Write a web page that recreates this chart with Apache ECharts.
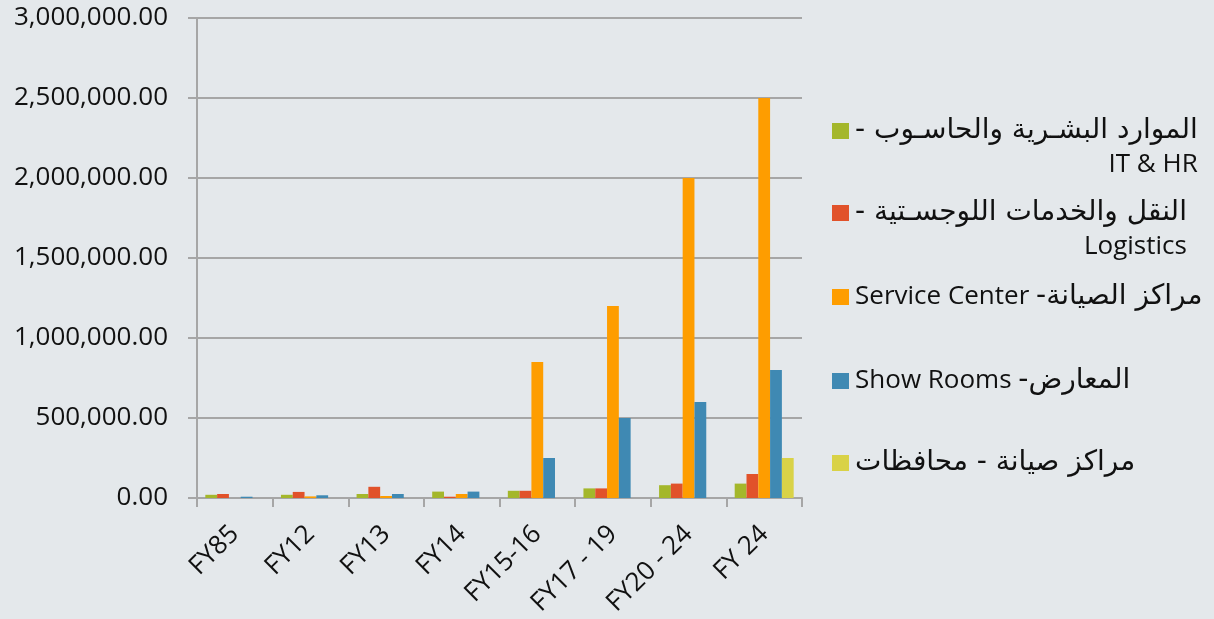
<!DOCTYPE html>
<html>
<head>
<meta charset="utf-8">
<script src="https://cdn.jsdelivr.net/npm/echarts@6/dist/echarts.min.js"></script>
<style>
html,body{margin:0;padding:0;background:#e4e8eb;}
#c{width:1214px;height:619px;}
</style>
</head>
<body>
<div id="c"></div>
<script>
const categories = ['FY85', 'FY12', 'FY13', 'FY14', 'FY15-16', 'FY17 - 19', 'FY20 - 24', 'FY 24'];
const seriesNames = [
  'الموارد البشرية والحاسوب - IT & HR',
  'النقل والخدمات اللوجستية - Logistics',
  'مراكز الصيانة- Service Center',
  'المعارض- Show Rooms',
  'مراكز صيانة - محافظات'
];
// legend lines as tokens: [style, text]
const legendLine1 = [
  [['ar', '- الموارد البشـرية والحاسـوب']],
  [['ar', '- النقل والخدمات اللوجسـتية']],
  [['la', 'Service Center '], ['ar', '-مراكز الصيانة']],
  [['la', 'Show Rooms '], ['ar', '-المعارض']],
  [['ar', 'مراكز صيانة - محافظات']]
];
const legendLine2 = ['IT & HR', 'Logistics', '', '', ''];
const itHr = [20000, 20000, 25000, 40000, 45000, 60000, 80000, 90000];
const logistics = [25000, 38000, 70000, 8000, 45000, 60000, 90000, 150000];
const serviceCenter = [0, 10000, 12500, 25000, 850000, 1200000, 2000000, 2500000];
const showRooms = [8000, 17000, 25000, 40000, 250000, 500000, 600000, 800000];
const governorates = [0, 0, 0, 0, 0, 0, 0, 250000];
const yTicks = [0, 500000, 1000000, 1500000, 2000000, 2500000, 3000000];

const colors = ['#a4b72b', '#e1522a', '#fe9d00', '#3f89b3', '#d9d247'];
const values = [itHr, logistics, serviceCenter, showRooms, governorates];
const FONT = '"Open Sans", "DejaVu Sans", sans-serif';
const AR_FONT = '"DejaVu Sans", sans-serif';
const LA_FS = 26;
const AR_FS = 28;
const LH = 34;
const legendCenters = [130, 212, 296, 380, 462];

const chart = echarts.init(document.getElementById('c'), null, {renderer: 'canvas'});

const legends = seriesNames.map((name, i) => {
  const two = legendLine2[i] !== '';
  return {
    orient: 'vertical',
    left: 832,
    top: two ? legendCenters[i] - 13 : legendCenters[i] - 13,
    padding: 0,
    itemWidth: 17,
    itemHeight: 16,
    itemGap: 0,
    selectedMode: false,
    icon: 'rect',
    data: [{
      name: name,
      textStyle: two ? {padding: [LH, 0, 0, 0]} : {}
    }],
    formatter: function () {
      let s = '{sp| }' + legendLine1[i].map(t => '{' + t[0] + '|' + t[1] + '}').join('');
      if (two) s += '\n{b|' + legendLine2[i] + '}';
      return s;
    },
    textStyle: {
      fontFamily: FONT,
      fontSize: LA_FS,
      color: '#111',
      rich: {
        sp: {fontSize: 4, lineHeight: LH},
        ar: {fontFamily: AR_FONT, fontSize: AR_FS, color: '#111', lineHeight: LH},
        la: {fontFamily: FONT, fontSize: LA_FS, color: '#111', lineHeight: LH},
        b: {fontFamily: FONT, fontSize: LA_FS, color: '#111', lineHeight: LH, align: 'right'}
      }
    }
  };
});

const option = {
  backgroundColor: '#e4e8eb',
  animation: false,
  color: colors,
  legend: legends,
  grid: {left: 197, right: 412, top: 18, bottom: 121, containLabel: false},
  xAxis: {
    type: 'category',
    data: categories,
    axisLine: {lineStyle: {color: '#a6a6a6', width: 2}},
    axisTick: {show: true, length: 9, lineStyle: {color: '#a6a6a6', width: 2}},
    axisLabel: {
      rotate: 45,
      interval: 0,
      margin: 32,
      fontFamily: FONT,
      fontSize: 26,
      color: '#111'
    }
  },
  yAxis: {
    type: 'value',
    min: yTicks[0],
    max: yTicks[yTicks.length - 1],
    interval: yTicks[1] - yTicks[0],
    axisLine: {show: true, lineStyle: {color: '#a6a6a6', width: 2}},
    axisTick: {show: true, length: 9, lineStyle: {color: '#a6a6a6', width: 2}},
    splitLine: {lineStyle: {color: '#a6a6a6', width: 2}},
    axisLabel: {
      margin: 29,
      fontFamily: FONT,
      fontSize: 26,
      color: '#111',
      formatter: v => v.toLocaleString('en-US', {minimumFractionDigits: 2, maximumFractionDigits: 2})
    }
  },
  series: seriesNames.map((name, i) => ({
    name: name,
    type: 'bar',
    data: values[i],
    barGap: '0%',
    barCategoryGap: '22%',
    itemStyle: {color: colors[i]}
  }))
};
chart.setOption(option);
</script>
</body>
</html>
